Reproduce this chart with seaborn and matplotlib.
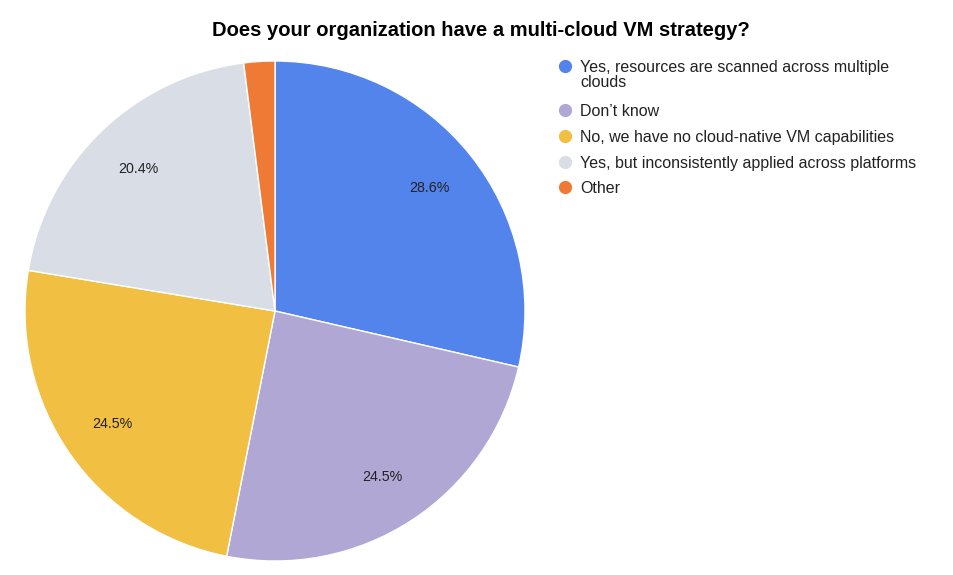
import matplotlib
matplotlib.use("Agg")
import matplotlib.pyplot as plt
import seaborn as sns
from matplotlib.lines import Line2D

categories = [
    "Yes, resources are scanned across multiple\nclouds",
    "Don\u2019t know",
    "No, we have no cloud-native VM capabilities",
    "Yes, but inconsistently applied across platforms",
    "Other",
]
values = [28.6, 24.5, 24.5, 20.4, 2.0]
colors = ["#5384EC", "#B1A7D4", "#F1BF42", "#D9DDE5", "#EE7A35"]
title = "Does your organization have a multi-cloud VM strategy?"

sns.set_theme(style="white")
plt.rcParams["font.family"] = ["Liberation Sans", "DejaVu Sans"]
palette = sns.color_palette(colors)

W, H = 954, 575
fig = plt.figure(figsize=(W / 100, H / 100), dpi=100)
fig.patch.set_facecolor("white")

cx, cy, r = 275, 311, 250
ax = fig.add_axes([(cx - r) / W, (H - cy - r) / H, 2 * r / W, 2 * r / H])

def fmt(p):
    return f"{p:.1f}%" if p >= 5 else ""

wedges, texts, autotexts = ax.pie(
    values,
    colors=palette,
    startangle=90,
    counterclock=False,
    radius=1.0,
    autopct=fmt,
    pctdistance=0.79,
    wedgeprops=dict(edgecolor="white", linewidth=1),
    textprops=dict(fontsize=10.3, color="#222222"),
)
ax.set_xlim(-1, 1)
ax.set_ylim(-1, 1)
ax.set_axis_off()

fig.text(481 / W, 1 - 30 / H, title, ha="center", va="center",
         fontsize=14.5, fontweight="bold", color="black")

# legend
marker_y = [66, 110, 136, 162, 187]
for lab, col, y in zip(categories, palette, marker_y):
    fig.add_artist(Line2D([565 / W], [1 - y / H], marker="o", markersize=8.5,
                          color=col, linestyle="none", transform=fig.transFigure))
    for i, line in enumerate(lab.split("\n")):
        fig.text(580 / W, 1 - (y + 6 + 15 * i) / H, line, ha="left", va="baseline",
                 fontsize=11.5, color="#222222")

fig.savefig("out.png", dpi=100)
